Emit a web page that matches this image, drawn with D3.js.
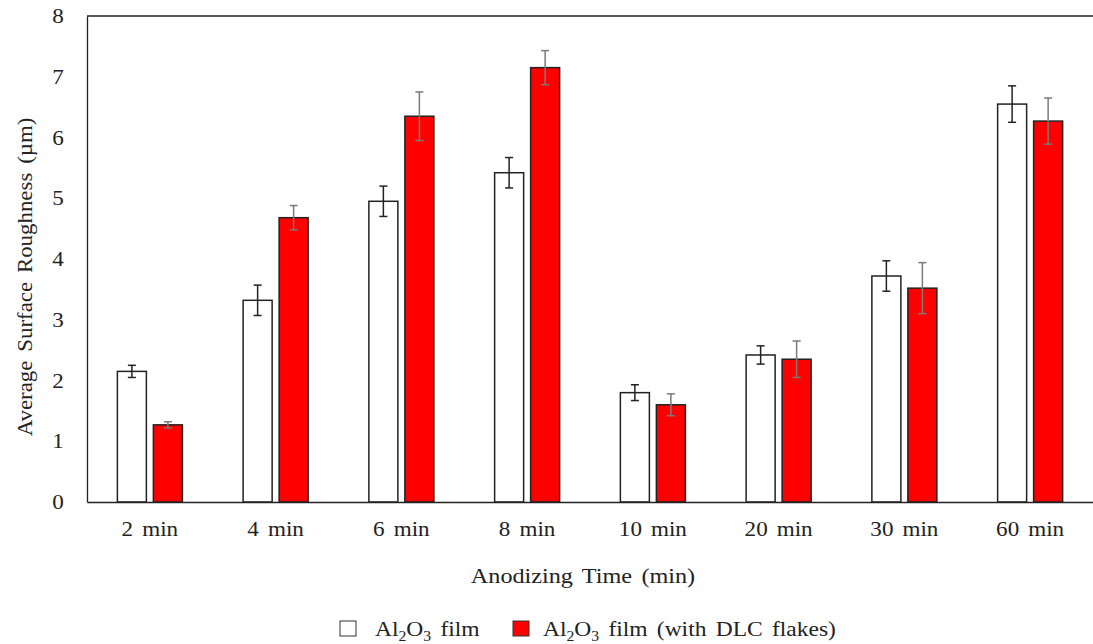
<!DOCTYPE html>
<html lang="en">
  <head>
    <meta charset="UTF-8" />
    <script src="https://d3js.org/d3.v7.min.js"></script>
    <style>
      body { margin: 0; background: #fff; }
      svg text { font-family: 'Liberation Serif', 'Times New Roman', Tinos, 'DejaVu Serif', serif !important; fill: #222; }
    </style>
  </head>
  <body>
    <svg id="chart" width="1093" height="644"></svg>
    <script>
      const categories = ['2 min', '4 min', '6 min', '8 min', '10 min', '20 min', '30 min', '60 min']
      const filmValues = [2.15, 3.32, 4.95, 5.42, 1.8, 2.42, 3.72, 6.55]
      const filmErrors = [0.1, 0.25, 0.25, 0.25, 0.13, 0.15, 0.25, 0.3]
      const dlcValues = [1.27, 4.68, 6.35, 7.15, 1.6, 2.35, 3.52, 6.27]
      const dlcErrors = [0.05, 0.2, 0.4, 0.28, 0.18, 0.3, 0.42, 0.38]
      const yTicks = [0, 1, 2, 3, 4, 5, 6, 7, 8]

      const svg = d3.select('#chart')
      const plotLeft = 87, plotRight = 1093, plotTop = 16, plotBottom = 502

      const x = d3.scaleBand().domain(categories).range([plotLeft, plotRight])
      const y = d3.scaleLinear().domain([0, 8]).range([plotBottom, plotTop])
      const barW = 29, gap = 7

      const series = [
        { values: filmValues, errors: filmErrors, fill: '#ffffff', err: '#222', off: -(barW + gap) / 2 },
        { values: dlcValues, errors: dlcErrors, fill: '#ff0000', err: '#7a7a7a', off: (barW + gap) / 2 },
      ]

      // frame: top line
      svg.append('line')
        .attr('x1', plotLeft).attr('x2', plotRight)
        .attr('y1', plotTop).attr('y2', plotTop)
        .attr('stroke', '#222').attr('stroke-width', 1.3)

      series.forEach((s) => {
        const g = svg.append('g')
        g.selectAll('rect')
          .data(categories)
          .enter()
          .append('rect')
          .attr('x', (d) => x(d) + x.bandwidth() / 2 + s.off - barW / 2)
          .attr('width', barW)
          .attr('y', (d, i) => y(s.values[i]))
          .attr('height', (d, i) => plotBottom - y(s.values[i]))
          .attr('fill', s.fill)
          .attr('stroke', '#222')
          .attr('stroke-width', 1.5)

        categories.forEach((c, i) => {
          const cx = x(c) + x.bandwidth() / 2 + s.off
          const y1 = y(s.values[i] + s.errors[i]), y2 = y(s.values[i] - s.errors[i])
          g.append('line').attr('x1', cx).attr('x2', cx).attr('y1', y1).attr('y2', y2)
            .attr('stroke', s.err).attr('stroke-width', 1.5)
          ;[y1, y2].forEach((yy) => {
            g.append('line').attr('x1', cx - 4).attr('x2', cx + 4).attr('y1', yy).attr('y2', yy)
              .attr('stroke', s.err).attr('stroke-width', 1.5)
          })
        })
      })

      // y axis
      const yAxis = svg.append('g')
        .attr('transform', 'translate(' + plotLeft + ',0)')
        .call(d3.axisLeft(y).tickValues(yTicks).tickSize(0).tickPadding(21).tickFormat(d3.format('d')))
      yAxis.attr('font-family', null)
      yAxis.select('.domain').attr('stroke', '#222').attr('stroke-width', 1.3)
      yAxis.selectAll('text').style('font-size', '21px').attr('fill', '#222')
        .attr('transform', 'scale(1.1,1)')

      // x axis
      const xAxis = svg.append('g')
        .attr('transform', 'translate(0,' + plotBottom + ')')
        .call(d3.axisBottom(x).tickSize(0).tickPadding(19))
      xAxis.attr('font-family', null)
      xAxis.select('.domain').attr('stroke', '#222').attr('stroke-width', 1.3)
      xAxis.selectAll('text').style('font-size', '21px').attr('word-spacing', '3').attr('fill', '#222')
        .attr('transform', 'scale(1.1,1)')

      // axis titles
      svg.append('g')
        .attr('transform', 'translate(583,583)')
        .append('text')
        .attr('transform', 'scale(1.1,1)')
        .attr('text-anchor', 'middle')
        .style('font-size', '22px')
        .attr('word-spacing', '3')
        .text('Anodizing Time (min)')

      svg.append('g')
        .attr('transform', 'translate(32,277) rotate(-90)')
        .append('text')
        .attr('transform', 'scale(1.04,1)')
        .attr('text-anchor', 'middle')
        .style('font-size', '22px')
        .attr('word-spacing', '3')
        .text('Average Surface Roughness (µm)')

      // legend
      const legend = svg.append('g')
      const items = [
        { x: 340, fill: '#ffffff', rest: ' film', tx: 375 },
        { x: 513, fill: '#ff0000', rest: ' film (with DLC flakes)', tx: 543 },
      ]
      items.forEach((it) => {
        legend.append('rect')
          .attr('x', it.x).attr('y', 621).attr('width', 16).attr('height', 15)
          .attr('fill', it.fill).attr('stroke', '#333').attr('stroke-width', 1)
        const t = legend.append('g')
          .attr('transform', 'translate(' + it.tx + ',636)')
          .append('text')
          .attr('transform', 'scale(1.12,1)')
          .style('font-size', '21px')
          .attr('word-spacing', '3')
        t.append('tspan').text('Al')
        t.append('tspan').attr('dy', 5).style('font-size', '14px').text('2')
        t.append('tspan').attr('dy', -5).text('O')
        t.append('tspan').attr('dy', 5).style('font-size', '14px').text('3')
        t.append('tspan').attr('dy', -5).text(it.rest)
      })
    </script>
  </body>
</html>
